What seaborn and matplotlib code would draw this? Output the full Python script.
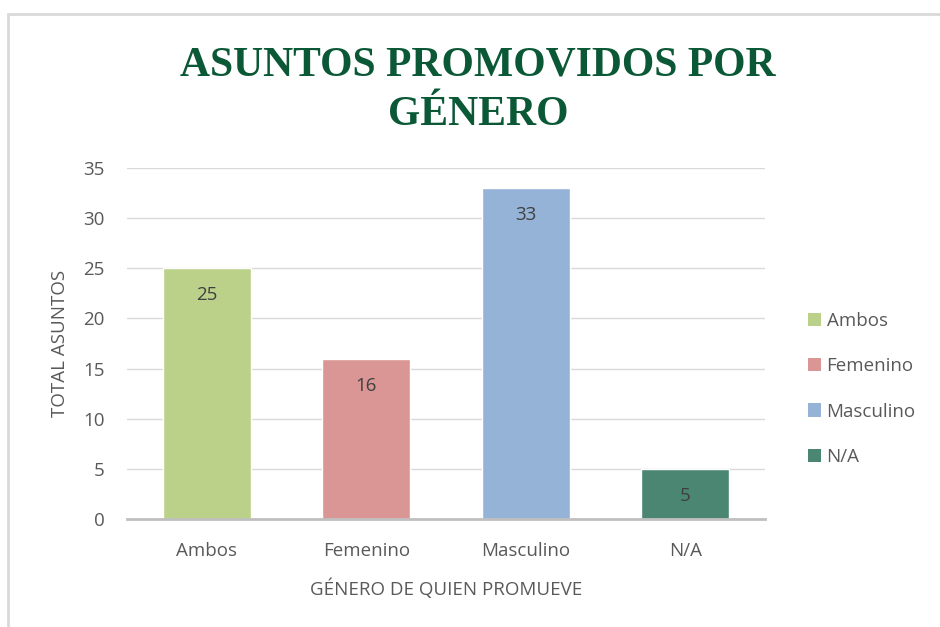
import matplotlib
matplotlib.use("Agg")
import matplotlib.pyplot as plt
import seaborn as sns
import pandas as pd
from matplotlib.patches import Rectangle, Patch

categories = ["Ambos", "Femenino", "Masculino", "N/A"]
values = [25, 16, 33, 5]
colors = ["#BBD18A", "#DA9694", "#95B3D7", "#4A8672"]
yticks = [0, 5, 10, 15, 20, 25, 30, 35]

df = pd.DataFrame({"genero": categories, "total": values})

sns.set_theme(style="white")
plt.rcParams['font.family'] = ['Open Sans', 'DejaVu Sans']
FS = 13.5

fig = plt.figure(figsize=(9.4, 6.27), dpi=100)
ax = fig.add_axes([127/940, 1-519/627, (765-127)/940, (519-168)/627])

sns.barplot(data=df, x="genero", y="total", hue="genero", palette=colors,
            order=categories, hue_order=categories, width=0.55, legend=False,
            ax=ax, saturation=1)

ax.set_ylim(0, 35)
ax.set_xlim(-0.5, 3.5)
ax.set_yticks(yticks)
ax.grid(axis="y", color="#D9D9D9", linewidth=1)
ax.set_axisbelow(True)
for s in ["top", "right", "left"]:
    ax.spines[s].set_visible(False)
ax.spines["bottom"].set_color("#BFBFBF")
ax.spines["bottom"].set_linewidth(2)
ax.tick_params(axis="both", length=0, labelsize=FS, labelcolor="#595959")
ax.tick_params(axis="y", pad=16)
ax.tick_params(axis="x", pad=16.5)

for i, v in enumerate(values):
    ax.text(i, v - 1.8, str(v), ha="center", va="top", fontsize=FS, color="#404040")

ax.set_xlabel("GÉNERO DE QUIEN PROMUEVE", fontsize=FS, color="#595959", labelpad=13.5)
ax.set_ylabel("TOTAL ASUNTOS", fontsize=FS, color="#595959", labelpad=10)

handles = [Patch(facecolor=c, edgecolor="none") for c in colors]
leg = fig.legend(handles, categories, loc="center left", bbox_to_anchor=(791/940, 1-389/627),
                 frameon=False, fontsize=FS, handlelength=0.7, handleheight=0.7,
                 labelspacing=1.45, handletextpad=0.3)
for t in leg.get_texts():
    t.set_color("#595959")

fig.text(478/940, 1-76/627, "ASUNTOS PROMOVIDOS POR", ha="center", va="baseline",
         fontsize=30, fontweight="bold", color="#0B5836", family="Liberation Serif")
fig.text(478/940, 1-125/627, "GÉNERO", ha="center", va="baseline",
         fontsize=30, fontweight="bold", color="#0B5836", family="Liberation Serif")

fig.patches.append(Rectangle((8/940, -0.1), 2, 1-14/627 + 0.1, transform=fig.transFigure,
                             fill=False, edgecolor="#D9D9D9", linewidth=2))

fig.savefig("out.png", dpi=100)
